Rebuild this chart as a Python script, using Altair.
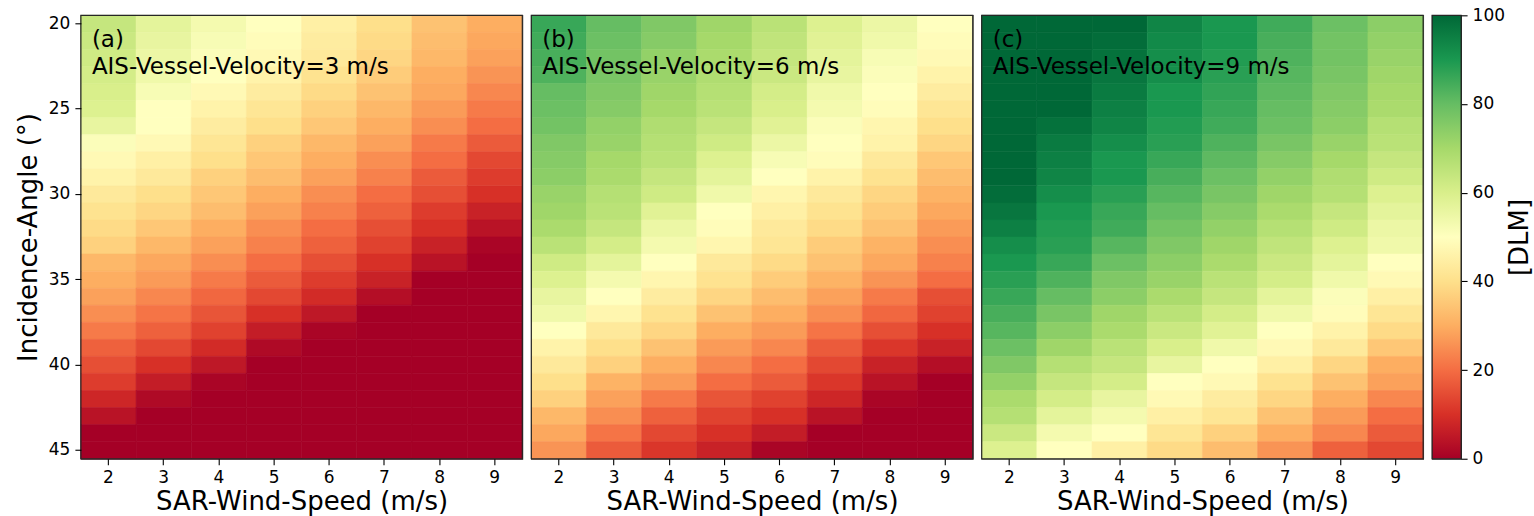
import altair as alt
import pandas as pd

# ---------------- data ----------------
angles = list(range(20, 46))          # Incidence-Angle rows (deg)
wind_speeds = [2, 3, 4, 5, 6, 7, 8, 9]  # SAR-Wind-Speed columns (m/s)
y_ticks = [20, 25, 30, 35, 40, 45]
cbar_ticks = [0, 20, 40, 60, 80, 100]

# panel (a): AIS vessel velocity 3 m/s, one list per wind speed, rows 20..45
a_ws2 = [64, 63, 62, 61, 60, 59, 56, 51, 48, 46, 43, 41, 39, 37, 32, 30, 28, 25, 22, 18, 15, 12, 8, 4, 0, 0]
a_ws3 = [57, 56, 55, 54, 52, 50, 50, 48, 45, 43, 40, 38, 35, 32, 29, 27, 24, 21, 18, 14, 10, 6, 2, 0, 0, 0]
a_ws4 = [53, 52, 51, 50, 48, 46, 44, 42, 40, 37, 35, 33, 30, 28, 25, 22, 19, 16, 13, 9, 5, 1, 0, 0, 0, 0]
a_ws5 = [50, 49, 48, 46, 44, 42, 40, 37, 35, 33, 30, 28, 25, 23, 20, 17, 14, 10, 6, 2, 0, 0, 0, 0, 0, 0]
a_ws6 = [45, 44, 43, 41, 39, 37, 35, 32, 30, 28, 25, 23, 20, 18, 15, 12, 9, 5, 1, 0, 0, 0, 0, 0, 0, 0]
a_ws7 = [40, 39, 38, 36, 34, 32, 30, 28, 25, 23, 20, 18, 15, 13, 10, 7, 3, 0, 0, 0, 0, 0, 0, 0, 0, 0]
a_ws8 = [34, 33, 32, 30, 29, 27, 25, 22, 20, 17, 15, 12, 10, 7, 4, 0, 0, 0, 0, 0, 0, 0, 0, 0, 0, 0]
a_ws9 = [30, 29, 28, 26, 24, 22, 20, 17, 14, 12, 10, 7, 4, 1, 0, 0, 0, 0, 0, 0, 0, 0, 0, 0, 0, 0]

# panel (b): AIS vessel velocity 6 m/s
b_ws2 = [86, 85, 84, 83, 80, 79, 78, 76, 75, 74, 72, 71, 69, 66, 62, 59, 56, 54, 50, 46, 43, 40, 37, 32, 29, 26]
b_ws3 = [80, 79, 78, 77, 76, 75, 73, 72, 70, 69, 67, 66, 64, 61, 57, 53, 50, 47, 43, 40, 37, 31, 28, 25, 21, 17]
b_ws4 = [76, 75, 73, 72, 71, 70, 68, 67, 66, 64, 62, 58, 55, 53, 50, 47, 44, 41, 38, 34, 30, 27, 22, 18, 14, 11]
b_ws5 = [71, 70, 69, 68, 67, 66, 64, 62, 59, 57, 54, 50, 49, 47, 43, 41, 38, 34, 30, 27, 24, 20, 16, 13, 10, 7]
b_ws6 = [66, 65, 64, 63, 61, 60, 58, 55, 52, 50, 47, 45, 43, 42, 39, 36, 33, 30, 27, 24, 20, 17, 13, 10, 6, 1]
b_ws7 = [59, 58, 57, 56, 54, 53, 51, 50, 49, 46, 43, 41, 39, 36, 34, 31, 28, 25, 21, 17, 14, 11, 8, 4, 0, 0]
b_ws8 = [55, 54, 52, 51, 50, 49, 47, 46, 43, 41, 38, 36, 34, 31, 29, 26, 22, 19, 15, 11, 7, 4, 1, 0, 0, 0]
b_ws9 = [50, 49, 48, 46, 44, 42, 40, 38, 35, 33, 31, 29, 27, 25, 23, 20, 15, 13, 10, 7, 3, 0, 0, 0, 0, 0]

# panel (c): AIS vessel velocity 9 m/s
c_ws2 = [100, 100, 100, 100, 100, 100, 100, 100, 100, 100, 99, 97, 95, 92, 90, 88, 86, 84, 82, 79, 76, 73, 69, 67, 63, 59]
c_ws3 = [100, 100, 100, 100, 100, 100, 98, 96, 95, 94, 92, 90, 89, 88, 86, 83, 80, 77, 74, 71, 67, 64, 61, 57, 53, 50]
c_ws4 = [100, 99, 98, 97, 96, 95, 94, 92, 90, 90, 88, 86, 85, 82, 79, 76, 74, 71, 69, 66, 64, 61, 56, 53, 50, 45]
c_ws5 = [94, 93, 92, 92, 90, 90, 89, 88, 86, 84, 82, 80, 78, 76, 74, 72, 69, 66, 63, 60, 56, 50, 48, 45, 42, 39]
c_ws6 = [90, 90, 89, 88, 87, 86, 85, 83, 81, 79, 77, 75, 73, 71, 69, 66, 64, 61, 58, 54, 50, 48, 44, 42, 37, 33]
c_ws7 = [85, 84, 83, 82, 81, 80, 79, 77, 75, 73, 71, 69, 67, 65, 63, 61, 57, 54, 50, 48, 45, 41, 38, 34, 30, 26]
c_ws8 = [79, 78, 78, 77, 76, 75, 74, 72, 70, 68, 67, 64, 62, 59, 57, 54, 51, 49, 46, 43, 38, 34, 30, 27, 24, 18]
c_ws9 = [74, 73, 72, 71, 70, 69, 67, 66, 64, 62, 59, 57, 55, 54, 50, 48, 45, 42, 39, 35, 30, 28, 24, 20, 17, 14]

panel_tags = ["(a)", "(b)", "(c)"]
panel_labels = ["AIS-Vessel-Velocity=3 m/s", "AIS-Vessel-Velocity=6 m/s", "AIS-Vessel-Velocity=9 m/s"]
panel_columns = [
    [a_ws2, a_ws3, a_ws4, a_ws5, a_ws6, a_ws7, a_ws8, a_ws9],
    [b_ws2, b_ws3, b_ws4, b_ws5, b_ws6, b_ws7, b_ws8, b_ws9],
    [c_ws2, c_ws3, c_ws4, c_ws5, c_ws6, c_ws7, c_ws8, c_ws9],
]

# RdYlGn colour map
cmap_colors = ["#a50026", "#d73027", "#f46d43", "#fdae61", "#fee08b", "#ffffbf",
               "#d9ef8b", "#a6d96a", "#66bd63", "#1a9850", "#006837"]
cmap_domain = [0, 10, 20, 30, 40, 50, 60, 70, 80, 90, 100]

FONT = "DejaVu Sans"
PW, PH = 442, 444
FRAME = "#262626"


def color_scale():
    return alt.Scale(domain=cmap_domain, range=cmap_colors, interpolate="rgb", clamp=True)


def make_df(cols):
    rows = []
    for ws, col in zip(wind_speeds, cols):
        for ang, v in zip(angles, col):
            rows.append({"ws": ws, "ang": ang, "dlm": v})
    return pd.DataFrame(rows)


def frame_layer(w, h):
    return alt.Chart(pd.DataFrame({"f": [0]})).mark_rect(
        fillOpacity=0, stroke=FRAME, strokeWidth=1.2
    ).encode(x=alt.value(0), x2=alt.value(w), y=alt.value(0), y2=alt.value(h))


def panel(cols, tag, label, show_y):
    df = make_df(cols)
    if show_y:
        yaxis = alt.Axis(values=y_ticks, title="Incidence-Angle (°)", titlePadding=7)
    else:
        yaxis = None
    rect = alt.Chart(df).mark_rect(strokeWidth=0.6).encode(
        x=alt.X("ws:O", scale=alt.Scale(paddingInner=0, paddingOuter=0),
                axis=alt.Axis(title="SAR-Wind-Speed (m/s)", labelAngle=0, titlePadding=3)),
        y=alt.Y("ang:O", scale=alt.Scale(paddingInner=0, paddingOuter=0), axis=yaxis),
        color=alt.Color("dlm:Q", scale=color_scale(), legend=None),
        stroke=alt.Stroke("dlm:Q", scale=color_scale(), legend=None),
    )
    t1 = alt.Chart(pd.DataFrame({"t": [tag]})).mark_text(
        align="left", baseline="alphabetic", font=FONT, fontSize=23, color="black"
    ).encode(text="t:N", x=alt.value(11), y=alt.value(32))
    t2 = alt.Chart(pd.DataFrame({"t": [label]})).mark_text(
        align="left", baseline="alphabetic", font=FONT, fontSize=23, color="black"
    ).encode(text="t:N", x=alt.value(11), y=alt.value(58.5))
    return alt.layer(rect, frame_layer(PW, PH), t1, t2).properties(width=PW, height=PH)


charts = [panel(panel_columns[i], panel_tags[i], panel_labels[i], i == 0) for i in range(3)]

gradient = alt.LinearGradient(
    gradient="linear",
    stops=[alt.GradientStop(offset=i / 10, color=c) for i, c in enumerate(cmap_colors)],
    x1=0, x2=0, y1=1, y2=0,
)
cbar = alt.Chart(pd.DataFrame({"lo": [cmap_domain[0]], "hi": [cmap_domain[-1]]})).mark_rect(
    color=gradient, stroke=FRAME, strokeWidth=1.2
).encode(
    y=alt.Y("lo:Q", scale=alt.Scale(domain=[0, 100], nice=False, zero=False),
            axis=alt.Axis(orient="right", values=cbar_ticks, title="[DLM]",
                          titleAngle=270, titleBaseline="top", titlePadding=2)),
    y2="hi:Q",
    x=alt.value(0),
    x2=alt.value(29),
).properties(width=29, height=PH)

chart = alt.hconcat(*charts, cbar, spacing=9, bounds="flush").properties(
    padding={"left": 14, "top": 5, "right": 0, "bottom": 0},
    background="white",
).configure_view(
    stroke=FRAME, strokeWidth=1.2
).configure_axis(
    labelFont=FONT, labelFontSize=17, labelColor="black",
    titleFont=FONT, titleFontSize=26, titleFontWeight="normal", titleColor="black",
    tickColor="black", tickSize=6, tickWidth=1.1, labelPadding=5,
    domain=False, grid=False,
)

chart.save("out.html", embed_options={"renderer": "svg", "actions": False})
